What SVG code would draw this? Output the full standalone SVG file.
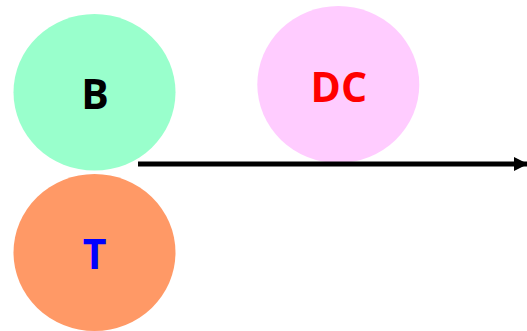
<svg xmlns="http://www.w3.org/2000/svg" width="527" height="331" viewBox="0 0 527 331">
<style>
.lbl{font-family:"Open Sans","Liberation Sans",sans-serif;font-weight:bold;font-size:41px;text-anchor:middle}
</style>
<defs>
<marker id="ah" viewBox="0 0 10 10" refX="10" refY="5" markerWidth="2.9" markerHeight="3.8" orient="auto" markerUnits="strokeWidth">
<path d="M0,0 L10,5 L0,10 z" fill="#000"/>
</marker>
</defs>
<rect width="527" height="331" fill="#fff"/>
<g id="node-B">
<ellipse cx="94.5" cy="92.3" rx="81" ry="78.3" fill="#99ffcc"/>
<text class="lbl" x="95" y="108.5" fill="#000">B</text>
</g>
<g id="node-T">
<ellipse cx="94.5" cy="252.5" rx="81" ry="78.5" fill="#ff9966"/>
<text class="lbl" x="94.5" y="268.7" fill="#0000ff">T</text>
</g>
<g id="node-DC">
<ellipse cx="338.3" cy="84.5" rx="81" ry="78.5" fill="#ffccff"/>
<text class="lbl" x="338.8" y="101.7" fill="#ff0000">DC</text>
</g>
<g id="connectors">
<line x1="138" y1="164" x2="528" y2="164" stroke="#000" stroke-width="5" marker-end="url(#ah)"/>
</g>
</svg>
